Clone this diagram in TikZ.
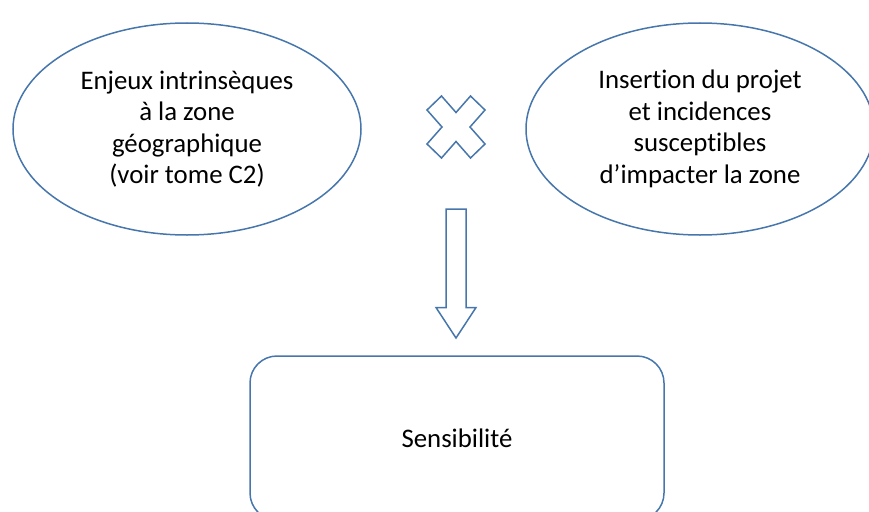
\documentclass[tikz,border=0pt]{standalone}
\usepackage{fontspec}
\setmainfont[Ligatures=NoCommon]{Carlito}
\usetikzlibrary{shapes.geometric}
\definecolor{edge}{RGB}{70,118,172}

\tikzset{
    bubble/.style={ellipse,draw=edge,line width=1.5pt,minimum width=348pt,minimum height=212pt,
        inner sep=0pt,align=center,font=\fontsize{26.8}{31.5}\selectfont},
    roundbox/.style={rectangle,rounded corners=27pt,draw=edge,line width=1.5pt,minimum width=414pt,
        minimum height=164pt,font=\fontsize{26.8}{31.5}\selectfont},
    bigarrow/.style={draw=edge,line width=1.5pt,line join=miter}
}

\begin{document}
\begin{tikzpicture}[x=1pt,y=-1pt]
        \useasboundingbox (0,0) rectangle (869,511);
        \node[bubble] (enjeux) at (187,129) {Enjeux intrinsèques\\à la zone\\géographique\\(voir tome C2)};
        \node[bubble] (projet) at (700,129) {Insertion du projet\\et incidences\\susceptibles\\d’impacter la zone};
        \node[roundbox] (sensib) at (457,438) {Sensibilité};
        \coordinate (mult) at (456,127);
        \coordinate (arrtop) at (456,209);
        \coordinate (arrtip) at (456,338);
        % multiplication sign
        \begin{scope}[shift={(mult)}]
            \draw[bigarrow] (-29,-17) -- (-14.5,-31) -- (0,-14.5) -- (14.5,-31) -- (29,-17) -- (14,0)
                -- (29,17) -- (14.5,31) -- (0,14.5) -- (-14.5,31) -- (-29,17) -- (-14,0) -- cycle;
        \end{scope}
        % block arrow
        \draw[bigarrow] (arrtop) ++(-10,0) -- ++(20,0) -- ++(0,98.5) -- ++(10,0) -- (arrtip)
            -- ++(-20,-30.5) -- ++(10,0) -- cycle;
    \end{tikzpicture}
\end{document}
